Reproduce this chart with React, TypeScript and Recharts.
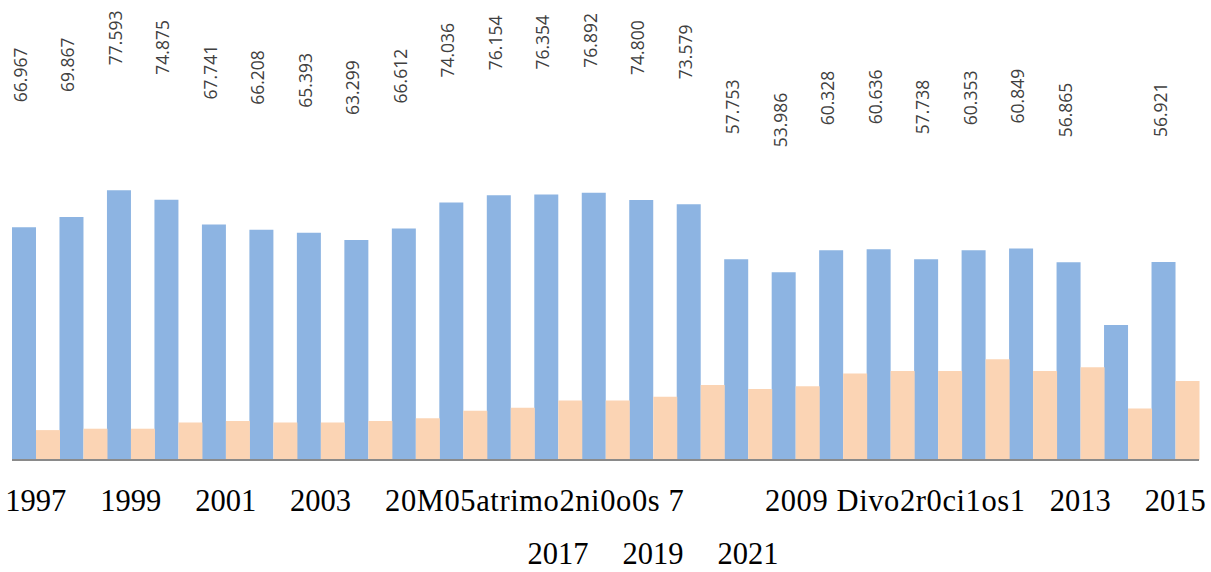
import React from "react";
import { BarChart, Bar, XAxis, YAxis, LabelList } from "recharts";

const years = [
  "1997", "1998", "1999", "2000", "2001", "2002", "2003", "2004", "2005",
  "2006", "2007", "2008", "2009", "2010", "2011", "2012", "2013", "2014",
  "2015", "2016", "2017", "2018", "2019", "2020", "2021",
];

// Matrimonios (miles)
const matrimonios = [
  66.967, 69.867, 77.593, 74.875, 67.741, 66.208, 65.393, 63.299, 66.612,
  74.036, 76.154, 76.354, 76.892, 74.8, 73.579, 57.753, 53.986, 60.328,
  60.636, 57.738, 60.353, 60.849, 56.865, 38.8, 56.921,
];

// Divorcios (miles)
const divorcios = [
  8.6, 9.0, 9.0, 10.8, 11.2, 10.8, 10.8, 11.2, 12.0, 14.2, 15.0, 17.1, 17.1,
  18.2, 21.6, 20.4, 21.2, 24.9, 25.6, 25.6, 29.0, 25.6, 26.7, 14.8, 22.7,
];

// no value label is shown on this year's bar
const hiddenLabels = ["2020"];

// axis text as it appears in the picture (legend text runs into the ticks)
const axisRow1 = [
  "1997", "", "1999", "", "2001", "", "2003", "", "20M05atrimo2ni0o0s 7",
  "", "", "", "", "", "", "", "2009 Divo2r0ci1os1", "", "", "", "", "",
  "2013", "", "2015",
];
const axisRow2 = [
  "", "", "", "", "", "", "", "", "", "", "", "2017", "", "2019", "", "2021",
  "", "", "", "", "", "", "", "", "",
];

const BLUE = "#8DB4E2";
const ORANGE = "#FBD4B4";
const AXIS_FONT = 30.5;

const data = years.map((year, i) => ({
  year,
  matrimonios: matrimonios[i],
  divorcios: divorcios[i],
}));

function ValueLabel(props: any) {
  const { x, y, width, value, index } = props;
  if (hiddenLabels.includes(years[index])) return null;
  const lx = Number(x) + Number(width) / 2 + 3;
  const ly = Number(y) - 125;
  return (
    <text
      x={lx}
      y={ly}
      transform={`rotate(-90 ${lx} ${ly})`}
      textAnchor="start"
      fontFamily="'Open Sans', sans-serif"
      fontSize={17.5}
      fill="#404040"
    >
      {Number(value).toFixed(3)}
    </text>
  );
}

function YearTick(props: any) {
  const { x, y, index } = props;
  const top = axisRow1[index];
  const bottom = axisRow2[index];
  const long = top.length > 4;
  return (
    <g fontFamily="'Liberation Serif', 'Times New Roman', serif" fontSize={AXIS_FONT} fill="#000">
      {top && (
        <text
          x={long ? x - AXIS_FONT : x}
          y={y + 51}
          textAnchor={long ? "start" : "middle"}
          letterSpacing={long ? 0.6 : 0}
        >
          {top}
        </text>
      )}
      {bottom && (
        <text x={x} y={y + 104} textAnchor="middle">
          {bottom}
        </text>
      )}
    </g>
  );
}

export default function App() {
  return (
    <div style={{ position: "absolute", left: 0, top: 0, background: "#fff" }}>
      <BarChart
        width={1211}
        height={572}
        data={data}
        margin={{ top: 8, right: 12, bottom: 0, left: 12 }}
        barCategoryGap={0}
        barGap={0}
      >
        <XAxis
          dataKey="year"
          interval={0}
          height={112}
          tickLine={false}
          tickSize={0}
          tickMargin={0}
          axisLine={{ stroke: "#8a8a8a", strokeWidth: 2 }}
          tick={<YearTick />}
        />
        <YAxis hide domain={[0, 130]} />
        <Bar dataKey="matrimonios" fill={BLUE} isAnimationActive={false}>
          <LabelList dataKey="matrimonios" content={<ValueLabel />} />
        </Bar>
        <Bar dataKey="divorcios" fill={ORANGE} isAnimationActive={false} />
      </BarChart>
    </div>
  );
}
